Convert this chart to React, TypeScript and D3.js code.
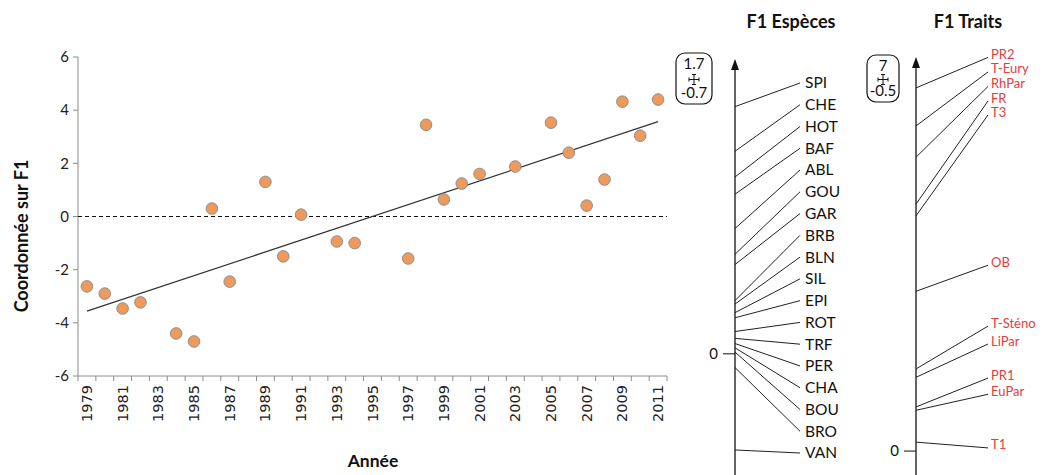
import React from 'react';
import * as d3 from 'd3';

// Scores annuels sur F1 (null = année sans relevé)
const years = [
  1979, 1980, 1981, 1982, 1983, 1984, 1985, 1986, 1987, 1988, 1989,
  1990, 1991, 1992, 1993, 1994, 1995, 1996, 1997, 1998, 1999, 2000,
  2001, 2002, 2003, 2004, 2005, 2006, 2007, 2008, 2009, 2010, 2011,
];
const f1Scores: (number | null)[] = [
  -2.63, -2.9, -3.46, -3.23, null, -4.4, -4.7, 0.3, -2.45, null, 1.3,
  -1.5, 0.07, null, -0.94, -1.0, null, null, -1.58, 3.45, 0.64, 1.24,
  1.6, null, 1.88, null, 3.53, 2.4, 0.41, 1.39, 4.32, 3.04, 4.4,
];
const yTicks = [-6, -4, -2, 0, 2, 4, 6];

// Coordonnées des espèces sur F1
const speciesNames = [
  'SPI', 'CHE', 'HOT', 'BAF', 'ABL', 'GOU', 'GAR', 'BRB', 'BLN',
  'SIL', 'EPI', 'ROT', 'TRF', 'PER', 'CHA', 'BOU', 'BRO', 'VAN',
];
const speciesF1 = [
  1.44, 1.18, 1.03, 0.93, 0.73, 0.58, 0.52, 0.31, 0.29,
  0.24, 0.21, 0.13, 0.09, 0.06, 0.035, 0.01, -0.08, -0.56,
];
const speciesRange = [-0.7, 1.7];

// Coordonnées des traits sur F1 (+ position des étiquettes, même unité)
const traitNames = [
  'PR2', 'T-Eury', 'RhPar', 'FR', 'T3', 'OB', 'T-Sténo', 'LiPar', 'PR1', 'EuPar', 'T1',
];
const traitF1 = [6.5, 5.82, 5.26, 4.42, 4.21, 2.86, 1.47, 1.32, 0.79, 0.73, 0.16];
const traitLabelAt = [7.1, 6.84, 6.58, 6.32, 6.07, 3.38, 2.29, 1.97, 1.36, 1.07, 0.11];
const traitRange = [-0.5, 7];

const W = 1052;
const H = 475;
const TXT = 'Lato, Carlito, "Open Sans", sans-serif';

const RangeBox: React.FC<{ x: number; y: number; w: number; h: number; top: string; bottom: string }> = ({ x, y, w, h, top, bottom }) => {
  const cx = x + w / 2;
  const cy = y + h / 2 + 1;
  return (
    <g>
      <rect x={x} y={y} width={w} height={h} rx={9} fill="#fff" stroke="#111" strokeWidth={1.2} />
      <text x={cx} y={y + 16} textAnchor="middle" fontSize={15} fontFamily={TXT} fill="#111">{top}</text>
      <g stroke="#111" strokeWidth={1}>
        <line x1={cx - 5} x2={cx + 5} y1={cy} y2={cy} />
        <line x1={cx} x2={cx} y1={cy - 5} y2={cy + 5} />
        <line x1={cx - 5} x2={cx - 5} y1={cy - 2} y2={cy + 2} />
        <line x1={cx + 5} x2={cx + 5} y1={cy - 2} y2={cy + 2} />
        <line x1={cx - 2} x2={cx + 2} y1={cy - 5} y2={cy - 5} />
        <line x1={cx - 2} x2={cx + 2} y1={cy + 5} y2={cy + 5} />
      </g>
      <text x={cx} y={y + h - 6} textAnchor="middle" fontSize={15} fontFamily={TXT} fill="#111">{bottom}</text>
    </g>
  );
};

const App: React.FC = () => {
  // --- nuage de points ---
  const plot = { left: 78, right: 667, top: 57, bottom: 376 };
  const x = d3.scaleBand<number>().domain(years).range([plot.left, plot.right]);
  const y = d3.scaleLinear().domain([-6, 6]).range([plot.bottom, plot.top]);
  const cx = (yr: number) => (x(yr) as number) + x.bandwidth() / 2;

  const pts = years
    .map((yr, i) => ({ yr, v: f1Scores[i] }))
    .filter(d => d.v !== null) as { yr: number; v: number }[];

  // droite de régression
  const mx = d3.mean(pts, d => d.yr) as number;
  const my = d3.mean(pts, d => d.v) as number;
  const sxy = d3.sum(pts, d => (d.yr - mx) * (d.v - my));
  const sxx = d3.sum(pts, d => (d.yr - mx) ** 2);
  const slope = sxy / sxx;
  const fit = (yr: number) => my + slope * (yr - mx);
  const y0 = years[0];
  const y1 = years[years.length - 1];

  const boundaries = years.map(yr => x(yr) as number).concat([plot.right]);

  // --- axe espèces ---
  const spAxisX = 735;
  const sy = d3.scaleLinear().domain(speciesRange).range([474, 62]);
  const spLabelY = d3.scalePoint<string>().domain(speciesNames).range([83, 453]);

  // --- axe traits ---
  const trAxisX = 916;
  const ty = d3.scaleLinear().domain(traitRange).range([479, 60]);

  return (
    <svg width={W} height={H} style={{ position: 'absolute', left: 0, top: 0, background: '#fff' }}>
      {/* axes du nuage */}
      <line x1={plot.left} x2={plot.left} y1={plot.top} y2={plot.bottom} stroke="#8c8c8c" />
      <line x1={plot.left} x2={plot.right} y1={plot.bottom} y2={plot.bottom} stroke="#8c8c8c" />
      {yTicks.map(t => (
        <g key={t}>
          <line x1={plot.left - 5} x2={plot.left} y1={y(t)} y2={y(t)} stroke="#8c8c8c" />
          <text x={plot.left - 9} y={y(t)} dy="0.35em" textAnchor="end" fontSize={15} fontFamily={TXT} fill="#222">{t}</text>
        </g>
      ))}
      {boundaries.map((bx, i) => (
        <line key={i} x1={bx} x2={bx} y1={plot.bottom} y2={plot.bottom + 5} stroke="#8c8c8c" />
      ))}
      {years.filter((_, i) => i % 2 === 0).map(yr => (
        <text key={yr} transform={`translate(${cx(yr)},${plot.bottom + 9}) rotate(-90)`} dy="0.35em" textAnchor="end"
          fontSize={14.5} style={{ fontFamily: "'DejaVu Sans', Verdana, sans-serif" }} fill="#222">{yr}</text>
      ))}

      <line x1={plot.left} x2={plot.right} y1={y(0)} y2={y(0)} stroke="#111" strokeWidth={1.2} strokeDasharray="4,3" />
      <line x1={cx(y0)} y1={y(fit(y0))} x2={cx(y1)} y2={y(fit(y1))} stroke="#333" strokeWidth={1.2} />

      {pts.map(d => (
        <circle key={d.yr} cx={cx(d.yr)} cy={y(d.v)} r={5.8} fill="#ee9a5c" stroke="#8e8e8e" strokeWidth={1} />
      ))}

      <text transform={`translate(22,236) rotate(-90)`} textAnchor="middle" dy="0.35em" fontSize={18} fontWeight="bold" fontFamily={TXT} fill="#111">Coordonnée sur F1</text>
      <text x={373} y={461} textAnchor="middle" dy="0.35em" fontSize={17.5} fontWeight="bold" fontFamily={TXT} fill="#111">Année</text>

      {/* F1 Espèces */}
      <text x={791} y={22} textAnchor="middle" dy="0.35em" fontSize={18} fontWeight="bold" fontFamily={TXT} fill="#111">F1 Espèces</text>
      <RangeBox x={676} y={53} w={36} h={51} top="1.7" bottom="-0.7" />
      <line x1={spAxisX} x2={spAxisX} y1={68} y2={H} stroke="#111" strokeWidth={1.3} />
      <path d={`M${spAxisX - 4},${70} L${spAxisX},${59} L${spAxisX + 4},${70} Z`} fill="#111" />
      <line x1={spAxisX - 12} x2={spAxisX} y1={sy(0)} y2={sy(0)} stroke="#111" />
      <text x={spAxisX - 17} y={sy(0)} dy="0.35em" textAnchor="end" fontSize={15} fontFamily={TXT} fill="#111">0</text>
      {speciesNames.map((n, i) => (
        <g key={n}>
          <line x1={spAxisX} y1={sy(speciesF1[i])} x2={800} y2={spLabelY(n) as number} stroke="#222" strokeWidth={1} />
          <text x={805} y={spLabelY(n)} dy="0.35em" fontSize={15.5} fontFamily={TXT} fill="#111">{n}</text>
        </g>
      ))}

      {/* F1 Traits */}
      <text x={968} y={22} textAnchor="middle" dy="0.35em" fontSize={18} fontWeight="bold" fontFamily={TXT} fill="#111">F1 Traits</text>
      <RangeBox x={867} y={55} w={32} h={47} top="7" bottom="-0.5" />
      <line x1={trAxisX} x2={trAxisX} y1={66} y2={H} stroke="#111" strokeWidth={1.3} />
      <path d={`M${trAxisX - 4},${68} L${trAxisX},${57} L${trAxisX + 4},${68} Z`} fill="#111" />
      <line x1={trAxisX - 12} x2={trAxisX} y1={ty(0)} y2={ty(0)} stroke="#111" />
      <text x={trAxisX - 17} y={ty(0)} dy="0.35em" textAnchor="end" fontSize={15} fontFamily={TXT} fill="#111">0</text>
      {traitNames.map((n, i) => (
        <g key={n}>
          <line x1={trAxisX} y1={ty(traitF1[i])} x2={988} y2={ty(traitLabelAt[i]) + 3} stroke="#222" strokeWidth={1} />
          <text x={991} y={ty(traitLabelAt[i])} dy="0.35em" fontSize={13} fontFamily={TXT} fill="#e0403e">{n}</text>
        </g>
      ))}
    </svg>
  );
};

export default App;
